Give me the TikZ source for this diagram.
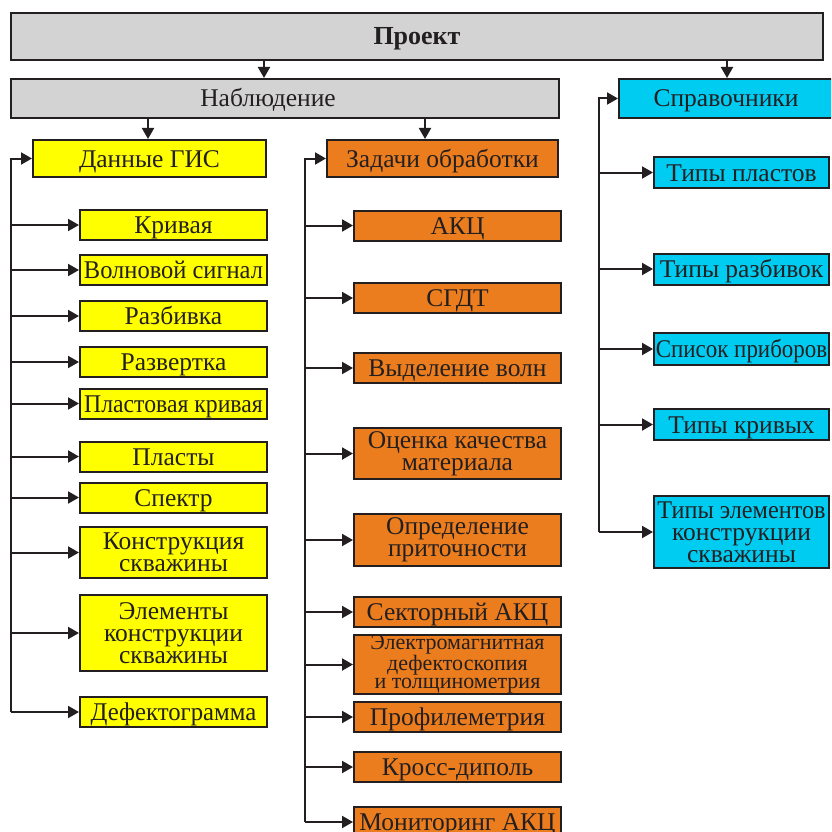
\documentclass[tikz,border=0pt]{standalone}
\usepackage{fontspec}
\setmainfont{Liberation Serif}
\usetikzlibrary{arrows.meta}
\definecolor{linec}{HTML}{231F20}
\definecolor{grayc}{HTML}{D3D3D3}
\definecolor{yelc}{HTML}{FFFF00}
\definecolor{orc}{HTML}{EB7D1E}
\definecolor{cyc}{HTML}{00CCF2}
\tikzset{
  box/.style={draw=linec, line width=2pt, inner sep=0pt, align=center, text=linec,
    font=\fontsize{25.5}{22}\selectfont, text height=17pt, text depth=0pt},
  multi/.style={text height={}, text depth={}},
  gbox/.style={box, fill=grayc},
  ybox/.style={box, fill=yelc},
  obox/.style={box, fill=orc},
  cbox/.style={box, fill=cyc},
  conn/.style={draw=linec, line width=2pt},
  arr/.style={conn, -{Triangle[length=11pt,width=12pt]}},
}
\begin{document}
\begin{tikzpicture}[x=1pt,y=-1pt]
\useasboundingbox (0,0) rectangle (831,832);
\clip (0,0) rectangle (831,832);
% top level
\node[gbox, minimum width=812pt, minimum height=47pt, font=\fontsize{26}{26}\selectfont\bfseries] (proj) at (417,36.5) {Проект};
\node[gbox, minimum width=548pt, minimum height=39pt] (nabl) at (285,98.5) {Наблюдение\hspace*{34pt}};
\node[cbox, minimum width=214pt, minimum height=39pt] (sprav) at (726,98.5) {Справочники};
\node[ybox, minimum width=233pt, minimum height=37pt] (gis) at (149.5,158.5) {Данные ГИС};
\node[obox, minimum width=231pt, minimum height=37pt] (zad) at (442.5,158.5) {Задачи обработки};
% left column
\begin{scope}[every node/.append style={ybox, minimum width=187pt, minimum height=30pt}]
\node (krivaya) at (173.5,225) {Кривая};
\node (volna) at (173.5,270) {\addfontfeature{FakeStretch=0.96}Волновой сигнал};
\node (razb) at (173.5,316) {Разбивка};
\node (razv) at (173.5,362) {Развертка};
\node (plastk) at (173.5,403.5) {\addfontfeature{FakeStretch=0.93}Пластовая кривая};
\node (plasty) at (173.5,456.5) {Пласты};
\node (spektr) at (173.5,497.5) {Спектр};
\node[multi, minimum height=51pt] (konstr) at (173.5,552.5) {Конструкция\\скважины};
\node[multi, minimum height=76pt] (elem) at (173.5,633) {Элементы\\конструкции\\скважины};
\node (defekt) at (173.5,712) {\addfontfeature{FakeStretch=0.97}Дефектограмма};
\end{scope}
% middle column
\begin{scope}[every node/.append style={obox, minimum width=207pt, minimum height=30pt}]
\node (akc) at (457.5,225.5) {АКЦ};
\node (sgdt) at (457.5,298) {СГДТ};
\node (vyd) at (457.5,368) {Выделение волн};
\node[multi, minimum height=51pt] (ocenka) at (457.5,453.5) {Оценка качества\\материала};
\node[multi, minimum height=52pt] (opred) at (457.5,540) {Определение\\приточности};
\node (sektor) at (457.5,612) {Секторный АКЦ};
\node[multi, minimum height=57pt, font=\fontsize{22}{18}\selectfont] (elmag) at (457.5,664.5) {Электромагнитная\\дефектоскопия\\и толщинометрия};
\node (profil) at (457.5,717) {Профилеметрия};
\node (kross) at (457.5,767) {Кросс-диполь};
\node (monit) at (457.5,822) {Мониторинг АКЦ};
\end{scope}
% right column
\begin{scope}[every node/.append style={cbox, minimum width=175pt, minimum height=31pt}]
\node (tplast) at (741.5,172.5) {Типы пластов};
\node (trazb) at (741.5,269) {Типы разбивок};
\node[minimum height=32pt] (spisok) at (741.5,349) {\addfontfeature{FakeStretch=0.9}Список приборов};
\node (tkriv) at (741.5,424.5) {Типы кривых};
\node[multi, minimum height=72pt] (telem) at (741.5,532) {\addfontfeature{FakeStretch=0.95}Типы элементов\\конструкции\\скважины};
\end{scope}
% connector coordinates
\coordinate (c1) at (264,0);
\coordinate (c2) at (727,0);
\coordinate (c3) at (148,0);
\coordinate (c4) at (425,0);
\coordinate (L) at (11,0);
\coordinate (M) at (305,0);
\coordinate (R) at (599,0);
\draw[arr] (proj.south -| c1) -- (nabl.north -| c1);
\draw[arr] (proj.south -| c2) -- (sprav.north -| c2);
\draw[arr] (nabl.south -| c3) -- (gis.north -| c3);
\draw[arr] (nabl.south -| c4) -- (zad.north -| c4);
% left bracket
\draw[arr] (L |- defekt) |- (gis);
\foreach \n in {krivaya,volna,razb,razv,plastk,plasty,spektr,konstr,elem,defekt}
  \draw[arr] (L |- \n) -- (\n);
% middle bracket
\draw[arr] (M |- monit) |- (zad);
\foreach \n in {akc,sgdt,vyd,ocenka,opred,sektor,elmag,profil,kross,monit}
  \draw[arr] (M |- \n) -- (\n);
% right bracket
\draw[arr] (R |- telem) |- (sprav);
\foreach \n in {tplast,trazb,spisok,tkriv,telem}
  \draw[arr] (R |- \n) -- (\n);
\end{tikzpicture}
\end{document}
